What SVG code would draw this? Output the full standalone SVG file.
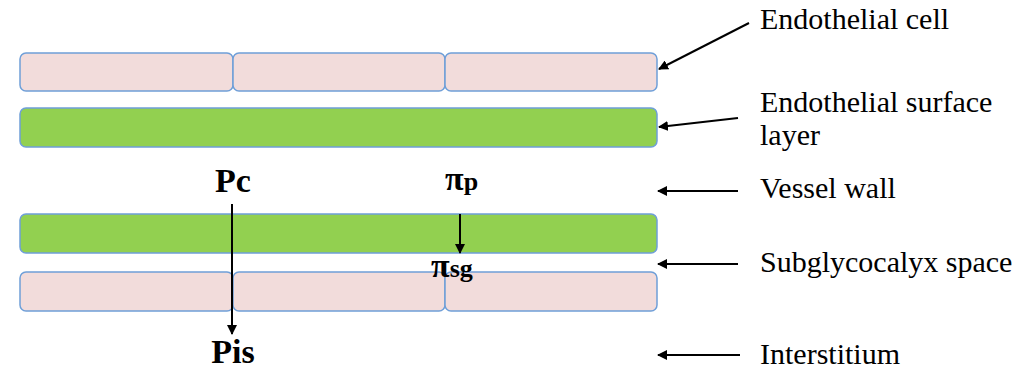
<svg xmlns="http://www.w3.org/2000/svg" width="1033" height="371" viewBox="0 0 1033 371">
<style>
.cell{fill:#f2dcdb;stroke:#6f9fd8;stroke-width:1.5}
.esl{fill:#92d050;stroke:#6f9fd8;stroke-width:1.5}
.lbl{font-family:"Liberation Serif","Times New Roman",serif;font-size:30px;fill:#000}
.sym{font-family:"Liberation Serif","Times New Roman",serif;font-weight:bold;fill:#000}
.ln{stroke:#000;stroke-width:2;fill:none}
</style>
<defs>
<marker id="ah" markerWidth="10" markerHeight="10" refX="9" refY="5" orient="auto" markerUnits="userSpaceOnUse">
<path d="M0,0 L10,5 L0,10 Z" fill="#000"/>
</marker>
</defs>
<rect width="1033" height="371" fill="#fff"/>
<g id="endothelial-top">
<rect class="cell" x="20" y="53" width="213" height="38" rx="6"/>
<rect class="cell" x="233" y="53" width="212" height="38" rx="6"/>
<rect class="cell" x="445" y="53" width="212" height="38" rx="6"/>
</g>
<g id="esl-top"><rect class="esl" x="20" y="108" width="637" height="39" rx="6"/></g>
<g id="esl-bottom"><rect class="esl" x="20" y="214" width="637" height="39" rx="6"/></g>
<g id="endothelial-bottom">
<rect class="cell" x="20" y="272" width="213" height="39" rx="6"/>
<rect class="cell" x="233" y="272" width="212" height="39" rx="6"/>
<rect class="cell" x="445" y="272" width="212" height="39" rx="6"/>
</g>
<g id="labels">
<text class="lbl" x="760" y="29">Endothelial cell</text>
<text class="lbl" x="760" y="112">Endothelial surface</text>
<text class="lbl" x="760" y="145">layer</text>
<text class="lbl" x="760" y="198">Vessel wall</text>
<text class="lbl" x="760" y="272">Subglycocalyx space</text>
<text class="lbl" x="760" y="364">Interstitium</text>
</g>
<g id="symbols">
<text class="sym" x="233" y="192" font-size="34" text-anchor="middle">Pc</text>
<text class="sym" x="233" y="363" font-size="34" text-anchor="middle">Pis</text>
<text class="sym" x="445" y="190" font-size="34">π<tspan font-size="26">p</tspan></text>
<text class="sym" x="431" y="277" font-size="34">π<tspan font-size="26">sg</tspan></text>
</g>
<g id="connectors">
<line class="ln" x1="232" y1="204" x2="232" y2="334" marker-end="url(#ah)"/>
<line class="ln" x1="460" y1="214" x2="460" y2="253" marker-end="url(#ah)"/>
<line class="ln" x1="749" y1="23" x2="659" y2="69" marker-end="url(#ah)"/>
<line class="ln" x1="738" y1="118" x2="659" y2="127" marker-end="url(#ah)"/>
<line class="ln" x1="738" y1="191" x2="658" y2="191" marker-end="url(#ah)"/>
<line class="ln" x1="738" y1="264" x2="658" y2="264" marker-end="url(#ah)"/>
<line class="ln" x1="740" y1="355" x2="658" y2="355" marker-end="url(#ah)"/>
</g>
</svg>
